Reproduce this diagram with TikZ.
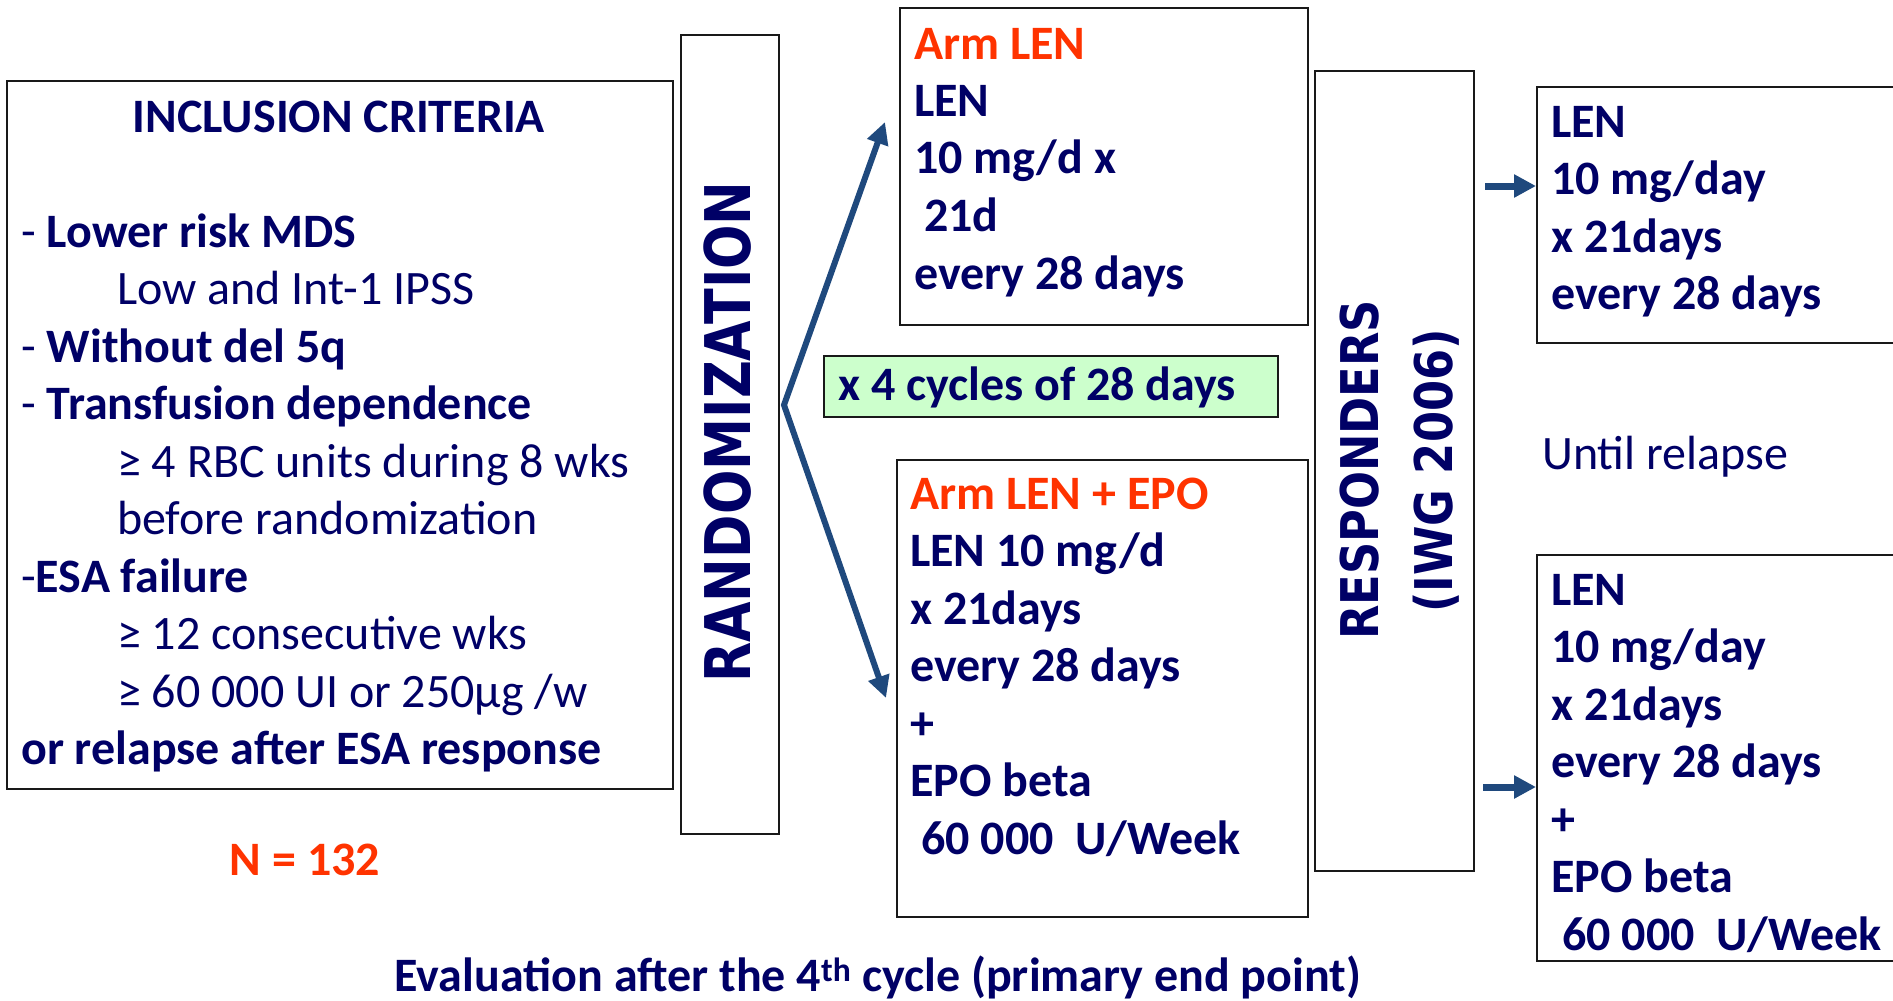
\documentclass[tikz,border=0pt]{standalone}
\usepackage{fontspec}
\usepackage{graphicx}
\setmainfont{Carlito}
\newfontfamily\vfont{DejaVu Sans}
\usetikzlibrary{arrows.meta}
\definecolor{navy}{RGB}{0,0,102}
\definecolor{orng}{RGB}{255,51,0}
\definecolor{arrowblue}{RGB}{31,73,125}
\definecolor{lgreen}{RGB}{204,255,204}
\setlength\parindent{0pt}
\begin{document}
\begin{tikzpicture}[x=1pt,y=-1pt,
  box/.style={draw=black!90, line width=2.2pt, inner sep=0pt, anchor=north west},
  txt/.style={text=navy, inner sep=0pt, font=\fontsize{48}{57.5}\selectfont},
  blk/.style={txt, anchor=base west, align=flush left, text width=#1},
  arr/.style={draw=arrowblue, line width=6pt, line join=miter,
    -{Triangle[length=22pt,width=21pt]}},
  sarr/.style={draw=arrowblue, line width=7pt,
    -{Triangle[length=22pt,width=22pt]}},
  vtxt/.style={rotate=90, anchor=base, text=navy, inner sep=0pt}
]
\useasboundingbox (0,0) rectangle (1893,1001);
\clip (0,0) rectangle (1893,1001);
\fill[white] (0,0) rectangle (1893,1001);

% boxes
\node[box, minimum width=666pt, minimum height=708pt] (incl) at (6,80) {};
\node[box, minimum width=97.5pt, minimum height=799pt] (rand) at (680,34) {};
\node[box, minimum width=408pt, minimum height=317pt] (armA) at (899,7) {};
\node[box, fill=lgreen, minimum width=454pt, minimum height=61pt] (green) at (823,355) {};
\node[box, minimum width=411pt, minimum height=457pt] (armB) at (896,459) {};
\node[box, minimum width=159.5pt, minimum height=800pt] (resp) at (1313.5,70) {};
\node[box, minimum width=400pt, minimum height=256pt] (resA) at (1536,86) {};
\node[box, minimum width=400pt, minimum height=406pt] (resB) at (1536,554) {};

% inclusion criteria
\node[txt, anchor=base, font=\fontsize{48}{57.5}\selectfont\bfseries] (title) at (339,132) {INCLUSION CRITERIA};
\node[blk=645pt] (crit) at (21,247) {%
- \textbf{Lower risk MDS}\\
\hspace*{96pt}Low and Int-1 IPSS\\
- \textbf{Without del 5q}\\
- \textbf{Transfusion dependence}\\
\hspace*{96pt}≥ 4 RBC units during 8 wks\\
\hspace*{96pt}before randomization\\
-\textbf{ESA failure}\\
\hspace*{96pt}≥ 12 consecutive wks\\
\hspace*{96pt}≥ 60 000 UI or 250µg /w\\
\textbf{or relapse after ESA response}};

\node[txt, anchor=base, text=orng, font=\fontsize{48}{57.5}\selectfont\bfseries] (n) at (305,875) {N = 132};

% randomization
\node[vtxt] (randtxt) at (750,432) {\scalebox{0.83}[1]{\vfont\bfseries\fontsize{63}{70}\selectfont RANDOMIZATION}};

% arms
\node[blk=380pt, font=\fontsize{48}{57.5}\selectfont\bfseries] (armAtxt) at (914,59) {%
{\color{orng}Arm LEN}\\
LEN\\
10 mg/d x\\
\hspace*{10pt}21d\\
every 28 days};

\node[txt, anchor=base west, font=\fontsize{48}{57.5}\selectfont\bfseries] (greentxt) at (838,400) {x 4 cycles of 28 days};

\node[blk=390pt, font=\fontsize{48}{57.5}\selectfont\bfseries] (armBtxt) at (910,509) {%
{\color{orng}Arm LEN + EPO}\\
LEN 10 mg/d\\
x 21days\\
every 28 days\\
+\\
EPO beta\\
\hspace*{11pt}60 000~ U/Week};

% responders
\node[vtxt] (resptxt1) at (1378,470) {\scalebox{0.86}[1]{\vfont\bfseries\fontsize{52}{60}\selectfont RESPONDERS}};
\node[vtxt] (resptxt2) at (1452,471) {\scalebox{0.86}[1]{\vfont\bfseries\fontsize{52}{60}\selectfont (IWG 2006)}};

\node[blk=500pt, font=\fontsize{48}{57.5}\selectfont\bfseries] (resAtxt) at (1551,137) {%
LEN\\
10 mg/day\\
x 21days\\
every 28 days};

\node[txt, anchor=base west] (until) at (1542,469) {Until relapse};

\node[blk=500pt, font=\fontsize{48}{57.5}\selectfont\bfseries] (resBtxt) at (1551,605) {%
LEN\\
10 mg/day\\
x 21days\\
every 28 days\\
+\\
EPO beta\\
\hspace*{11pt}60 000~ U/Week};

\node[txt, anchor=base, font=\fontsize{48}{57.5}\selectfont\bfseries] (evaltxt) at (878,991) {Evaluation after the 4\textsuperscript{th} cycle (primary end point)};

% arrows
\coordinate (split) at (784,405);
\coordinate (tipA) at (885,122);
\coordinate (tipB) at (886,698);
\draw[arr, {Triangle[length=22pt,width=21pt]}-{Triangle[length=22pt,width=21pt]}] (tipA) -- (split) -- (tipB);

\coordinate (sa1) at (1485,186);
\coordinate (sa2) at (1483,787);
\draw[sarr] (sa1) -- (sa1 -| resA.west);
\draw[sarr] (sa2) -- (sa2 -| resB.west);
\end{tikzpicture}
\end{document}
